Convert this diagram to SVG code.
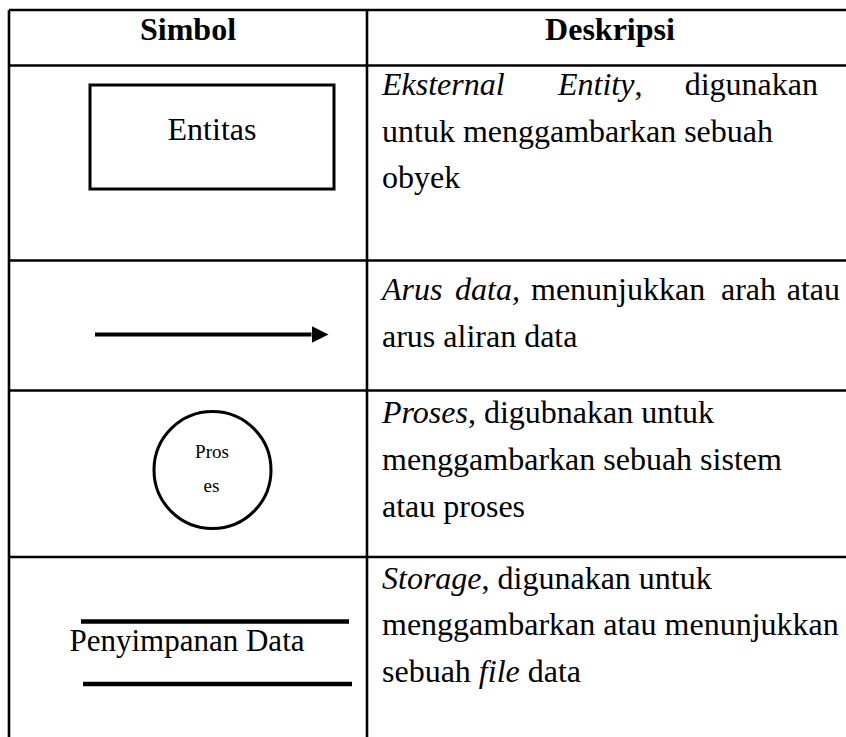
<svg xmlns="http://www.w3.org/2000/svg" width="846" height="737" viewBox="0 0 846 737">
  <style>
    text { font-family: "Liberation Serif", "Times New Roman", serif; fill: #000; }
    .head { font-size: 32px; font-weight: bold; text-anchor: middle; }
    .body { font-size: 32px; }
    .it { font-style: italic; }
    .grid { stroke: #000; stroke-width: 2.6; fill: none; }
    .shape { stroke: #000; stroke-width: 3; fill: #fff; }
    .bar { stroke: #000; stroke-width: 4.5; }
  </style>
  <defs>
    <marker id="arrowhead" markerUnits="userSpaceOnUse" markerWidth="17" markerHeight="17" refX="0" refY="8.5" orient="auto">
      <path d="M0,0 L17,8.5 L0,17 Z" fill="#000"/>
    </marker>
  </defs>

  <rect width="846" height="737" fill="#fff"/>

  <!-- table grid -->
  <g id="table-grid" class="grid">
    <line x1="9" y1="10" x2="860" y2="10"/>
    <line x1="9" y1="10" x2="9" y2="745"/>
    <line x1="367" y1="10" x2="367" y2="745"/>
    <line x1="9" y1="65.5" x2="860" y2="65.5"/>
    <line x1="9" y1="260.5" x2="860" y2="260.5"/>
    <line x1="9" y1="390.5" x2="860" y2="390.5"/>
    <line x1="9" y1="557" x2="860" y2="557"/>
  </g>

  <!-- column headings -->
  <g id="header">
    <text class="head" x="188" y="40">Simbol</text>
    <text class="head" x="610" y="40">Deskripsi</text>
  </g>

  <!-- external entity symbol -->
  <g id="entity">
    <rect class="shape" x="90" y="85" width="244" height="104"/>
    <text class="body" x="212" y="140" text-anchor="middle">Entitas</text>
  </g>

  <!-- data flow symbol -->
  <g id="connectors">
    <line x1="95" y1="334.5" x2="311.5" y2="334.5" stroke="#000" stroke-width="4" marker-end="url(#arrowhead)"/>
  </g>

  <!-- process symbol -->
  <g id="process">
    <circle class="shape" cx="212.5" cy="470" r="58.5"/>
    <text x="212" y="458" font-size="19" text-anchor="middle">Pros</text>
    <text x="211.5" y="491.5" font-size="19" text-anchor="middle">es</text>
  </g>

  <!-- data store symbol -->
  <g id="data-store">
    <line class="bar" x1="81" y1="621.5" x2="349" y2="621.5"/>
    <text x="187" y="650.5" font-size="31" text-anchor="middle">Penyimpanan Data</text>
    <line class="bar" x1="83" y1="684" x2="352" y2="684"/>
  </g>

  <!-- descriptions (first lines are justified word by word) -->
  <g id="desc-entity">
    <text class="body" x="382" y="95"><tspan class="it">Eksternal</tspan></text>
    <text class="body" x="558" y="95"><tspan class="it">Entity</tspan>,</text>
    <text class="body" x="818" y="95" text-anchor="end">digunakan</text>
    <text class="body" x="382" y="141.5">untuk menggambarkan sebuah</text>
    <text class="body" x="382" y="188">obyek</text>
  </g>

  <g id="desc-flow">
    <text class="body" x="382" y="300"><tspan class="it">Arus</tspan></text>
    <text class="body" x="455" y="300"><tspan class="it">data,</tspan></text>
    <text class="body" x="531" y="300">menunjukkan</text>
    <text class="body" x="721" y="300">arah</text>
    <text class="body" x="840" y="300" text-anchor="end">atau</text>
    <text class="body" x="382" y="346.5">arus aliran data</text>
  </g>

  <g id="desc-process">
    <text class="body" x="382" y="422.5"><tspan class="it">Proses</tspan>, digubnakan untuk</text>
    <text class="body" x="382" y="469.5">menggambarkan sebuah sistem</text>
    <text class="body" x="382" y="516.5">atau proses</text>
  </g>

  <g id="desc-store">
    <text class="body" x="382" y="588.5"><tspan class="it">Storage</tspan>, digunakan untuk</text>
    <text class="body" x="382" y="635">menggambarkan atau menunjukkan</text>
    <text class="body" x="382" y="681.5">sebuah <tspan class="it">file</tspan> data</text>
  </g>
</svg>
